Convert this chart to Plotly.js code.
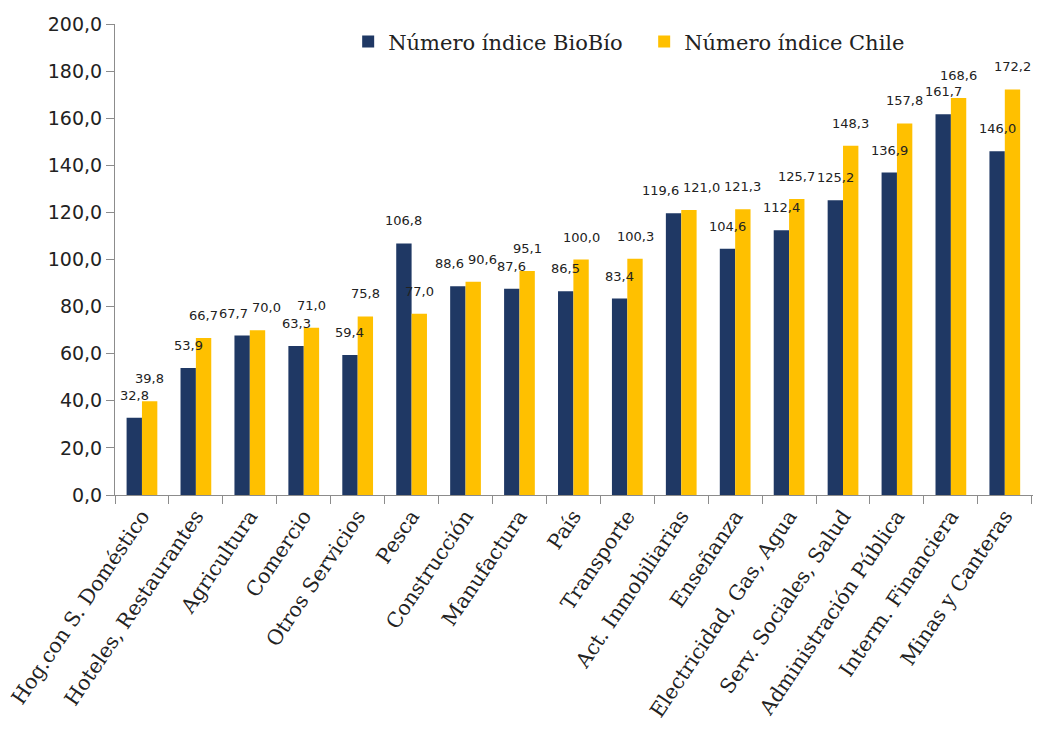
<!DOCTYPE html>
<html>
<head>
<meta charset="utf-8">
<script src="https://cdn.plot.ly/plotly-3.0.1.min.js"></script>
<style>html,body{margin:0;padding:0;background:#fff;}#chart{width:1064px;height:735px;}</style>
</head>
<body>
<div id="chart"></div>
<script>
const categories = ["Hog.con S. Doméstico","Hoteles, Restaurantes","Agricultura","Comercio","Otros Servicios","Pesca","Construcción","Manufactura","País","Transporte","Act. Inmobiliarias","Enseñanza","Electricidad, Gas, Agua","Serv. Sociales, Salud","Administración Pública","Interm. Financiera","Minas y Canteras"];
const bioBio = [32.8,53.9,67.7,63.3,59.4,106.8,88.6,87.6,86.5,83.4,119.6,104.6,112.4,125.2,136.9,161.7,146.0];
const chile  = [39.8,66.7,70.0,71.0,75.8,77.0,90.6,95.1,100.0,100.3,121.0,121.3,125.7,148.3,157.8,168.6,172.2];
const seriesNames = ["Número índice BioBío","Número índice Chile"];
const yTicks = [0,20,40,60,80,100,120,140,160,180,200];

const W = 1064, H = 735;
const margin = {l:115, r:31, t:24, b:240};
const yMax = 200;
const bargap = 0.43;
const plotW = W - margin.l - margin.r, plotH = H - margin.t - margin.b;
const pxPerUnit = plotH / yMax;
const halfBar = plotW / categories.length * (1 - bargap) / 4;
const labelLift = 13;   // gap between bar top and label (px)
const labelHeight = 16;

const fmt = v => v.toFixed(1).replace('.', ',');
const labelFont = {family:"DejaVu Sans, Verdana, sans-serif", size:13, color:"#222"};

const annotations = [];
categories.forEach((c, i) => {
  const close = Math.abs(chile[i] - bioBio[i]) * pxPerUnit < labelHeight;
  annotations.push({x:c, y:bioBio[i], xref:"x", yref:"y", text:fmt(bioBio[i]), showarrow:false,
    font:labelFont, yanchor:"bottom", yshift:labelLift,
    xanchor: close ? "right" : "center", xshift: close ? 0 : -halfBar});
  annotations.push({x:c, y:chile[i], xref:"x", yref:"y", text:fmt(chile[i]), showarrow:false,
    font:labelFont, yanchor:"bottom", yshift:labelLift,
    xanchor: close ? "left" : "center", xshift: close ? 0 : halfBar});
});

const traces = [
  {type:"bar", name:seriesNames[0], x:categories, y:bioBio, marker:{color:"#1f3864"}, hoverinfo:"skip"},
  {type:"bar", name:seriesNames[1], x:categories, y:chile, marker:{color:"#ffc000"}, hoverinfo:"skip"}
];
const layout = {
  width:W, height:H,
  margin:margin,
  paper_bgcolor:"#fff", plot_bgcolor:"#fff",
  separators:",.",
  barmode:"group", bargap:bargap, bargroupgap:0,
  showlegend:true,
  annotations:annotations,
  legend:{orientation:"h", x:0.254, xanchor:"left", y:0.962, yanchor:"middle",
          entrywidth:251, entrywidthmode:"pixels",
          font:{family:"DejaVu Serif, serif", size:21, color:"#222"}, bgcolor:"rgba(0,0,0,0)"},
  xaxis:{type:"category", tickangle:-56, showline:true, linecolor:"#8c8c8c", linewidth:1,
         ticks:"outside", tickson:"boundaries", ticklen:8, tickcolor:"#8c8c8c",
         tickfont:{family:"DejaVu Serif, serif", size:20.5, color:"#222"}, showgrid:false, zeroline:false},
  yaxis:{range:[0,yMax], tickvals:yTicks, tickformat:".1f", showline:true, linecolor:"#8c8c8c", linewidth:1,
         ticks:"outside", ticklen:8, tickcolor:"#8c8c8c", showgrid:false, zeroline:false,
         tickfont:{family:"DejaVu Sans, Verdana, sans-serif", size:19, color:"#222"}}
};
Plotly.newPlot("chart", traces, layout, {displayModeBar:false, staticPlot:true});
</script>
</body>
</html>
